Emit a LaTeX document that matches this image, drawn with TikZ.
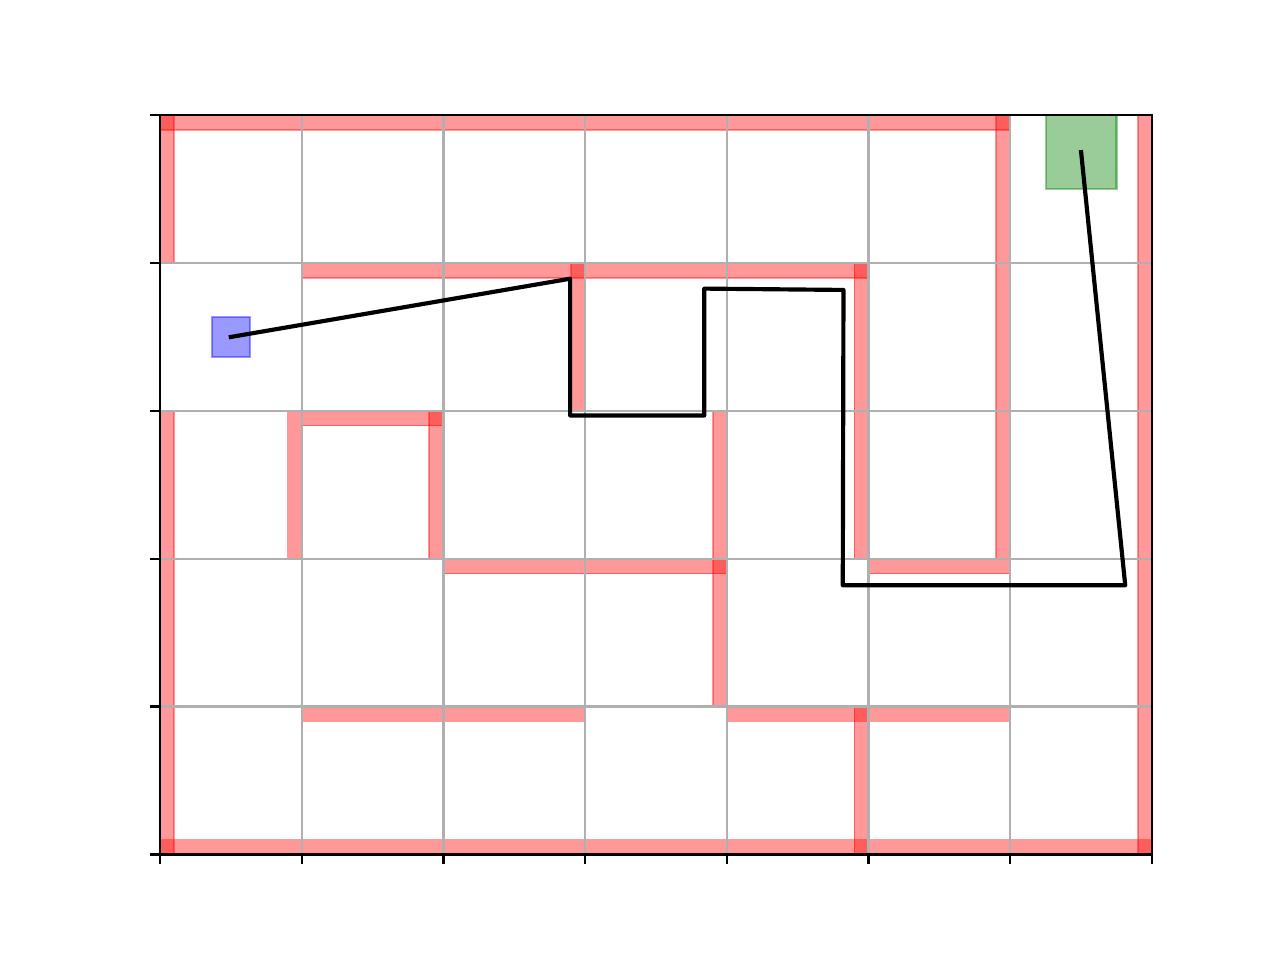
\documentclass[tikz,border=0pt]{standalone}
\usetikzlibrary{positioning}
\definecolor{mplgreen}{RGB}{0,128,0}
\definecolor{gridgray}{RGB}{176,176,176}

\begin{document}
\begin{tikzpicture}[x=51.017pt, y=53.2224pt]
			\tikzset {wall/.style={fill=red, draw=red, fill opacity=0.4, draw opacity=0.4, line width=0.6pt}, gridline/.style={draw=gridgray, line width=0.8pt}, spine/.style={draw=black, line width=0.8pt}, route/.style={draw=black, line width=1.5pt, line cap=rect, line join=round}, startbox/.style={rectangle, inner sep=0pt, minimum width=13.8pt, minimum height=14.4pt, fill=blue, draw=blue, fill opacity=0.4, draw opacity=0.4, line width=0.8pt}, goalbox/.style={rectangle, inner sep=0pt, minimum width=25.5pt, minimum height=26.6pt, fill=mplgreen, draw=mplgreen, fill opacity=0.4, draw opacity=0.4, line width=0.8pt} }
			\useasboundingbox (-57.6pt,-38.016pt) rectangle (403.2pt,307.584pt);
			
			% walls
			\foreach \xa/\xb/\y in {0/6/5, 1/5/4, 1/2/3, 2/4/2, 5/6/2, 1/3/1, 4/6/1}
				\draw[wall] (\xa,\y-0.1) rectangle (\xb,\y);
			\draw[wall] (0,0) rectangle (7,0.1);
			\foreach \x/\ya/\yb in {1/2/3, 2/2/3, 3/3/4, 4/1/3, 5/2/4, 5/0/1, 6/2/5, 7/0/5}
				\draw[wall] (\x-0.1,\ya) rectangle (\x,\yb);
			\draw[wall] (0,4) rectangle (0.1,5);
			\draw[wall] (0,0) rectangle (0.1,3);
			
			% grid
			\foreach \x in {0,...,7}
				\draw[gridline] (\x,0) -- (\x,5);
			\foreach \y in {0,...,5}
				\draw[gridline] (0,\y) -- (7,\y);
			
			\node[startbox] (start) at (0.5,3.5) {};
			\node[goalbox] (goal) at (6.5,4.75) {};
			
			% route
			\coordinate (p1) at (2.894,3.894);
			\coordinate (p2) at (2.894,2.969);
			\coordinate (p3) at (3.841,2.969);
			\coordinate (p4) at (3.841,3.827);
			\coordinate (p5) at (4.823,3.818);
			\coordinate (p6) at (4.818,1.821);
			\coordinate (p7) at (6.811,1.821);
			\draw[route] (start.center) -- (p1) -- (p2) -- (p3) -- (p4) -- (p5) -- (p6) -- (p7) -- (goal.center);
			
			% axes
			\draw[spine] (0,0) rectangle (7,5);
			\foreach \x in {0,...,7}
				\draw[spine] (\x,0) -- ++(0pt,-3.5pt);
			\foreach \y in {0,...,5}
				\draw[spine] (0,\y) -- ++(-3.5pt,0pt);
		\end{tikzpicture}
\end{document}
